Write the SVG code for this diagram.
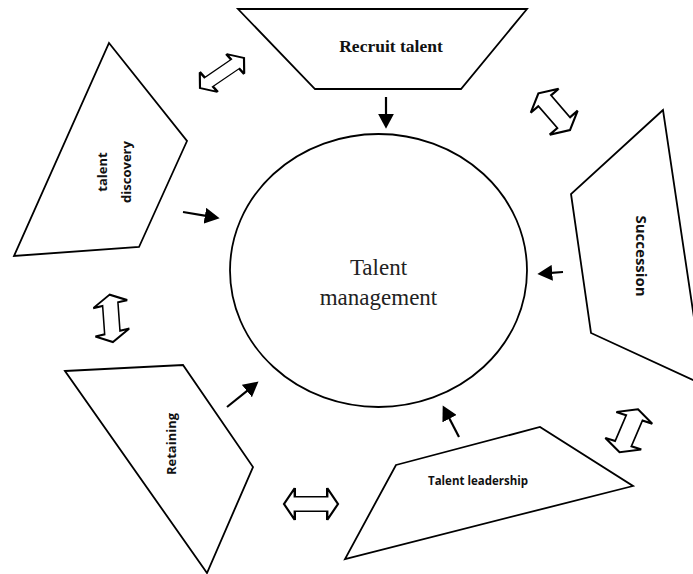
<svg xmlns="http://www.w3.org/2000/svg" width="693" height="574" viewBox="0 0 693 574">
<style>
.shape{fill:#fff;stroke:#000;stroke-width:1.8;stroke-linejoin:miter}
.dbl{fill:#fff;stroke:#000;stroke-width:1.8;stroke-linejoin:miter}
.lbl{font-family:"Open Sans","Liberation Sans",sans-serif;font-weight:bold;fill:#111;text-anchor:middle}
.arr{stroke:#000;stroke-width:2.2;fill:none}
</style>
<defs>
<marker id="ah" markerUnits="userSpaceOnUse" markerWidth="16" markerHeight="16" refX="4" refY="7.5" orient="auto" viewBox="0 0 15 15">
<path d="M0,0 L14,7.5 L0,15 Z" fill="#000"/>
</marker>
<path id="dblArrow" d="M-1,0 L-0.6,-1 L-0.6,-0.45 L0.6,-0.45 L0.6,-1 L1,0 L0.6,1 L0.6,0.45 L-0.6,0.45 L-0.6,1 Z"/>
</defs>
<rect width="693" height="574" fill="#fff"/>

<g id="center">
<ellipse cx="378.5" cy="270.5" rx="148.5" ry="136.5" fill="#fff" stroke="#000" stroke-width="1.8"/>
<text x="378.5" y="275" font-family="Liberation Serif,serif" font-size="23" text-anchor="middle" fill="#222">Talent</text>
<text x="378.5" y="305" font-family="Liberation Serif,serif" font-size="23" text-anchor="middle" fill="#222">management</text>
</g>

<g id="recruit">
<polygon class="shape" points="238,9 527,9 461,89 315,89"/>
<text x="391" y="52" font-family="Liberation Serif,serif" font-size="17.5" font-weight="bold" text-anchor="middle" fill="#111">Recruit talent</text>
</g>

<g id="discovery">
<polygon class="shape" points="109,43 187,141 139,247 14,256"/>
<text class="lbl" font-size="13" transform="translate(102,172) rotate(-90)" dy="0.35em">talent</text>
<text class="lbl" font-size="13" transform="translate(126,172) rotate(-90)" dy="0.35em">discovery</text>
</g>

<g id="succession">
<polygon class="shape" points="663,110 571,194 591,333 704,385"/>
<text class="lbl" font-size="15" transform="translate(641,256) rotate(90)" dy="0.35em">Succession</text>
</g>

<g id="retaining">
<polygon class="shape" points="65,371 183,365 253,467 207,573"/>
<text class="lbl" font-size="13" transform="translate(171,444) rotate(-90)" dy="0.35em">Retaining</text>
</g>

<g id="leadership">
<polygon class="shape" points="396,465 540,427 633,486 345,559"/>
<text class="lbl" font-size="11.5" x="478" y="485">Talent leadership</text>
</g>

<g id="connectors">
<line class="arr" x1="386" y1="97" x2="386" y2="118" marker-end="url(#ah)"/>
<line class="arr" x1="183" y1="212" x2="209.1" y2="216.4" marker-end="url(#ah)"/>
<line class="arr" x1="563" y1="272" x2="548" y2="273.2" marker-end="url(#ah)"/>
<line class="arr" x1="227" y1="407" x2="250.2" y2="388.3" marker-end="url(#ah)"/>
<line class="arr" x1="459" y1="437" x2="447.6" y2="414.9" marker-end="url(#ah)"/>

<use href="#dblArrow" class="dbl" transform="matrix(22,-15,9,10,222,73)" style="stroke-width:0.09"/>
<use href="#dblArrow" class="dbl" transform="matrix(15.8,18.3,14,-12,554.2,111.7)" style="stroke-width:0.09"/>
<use href="#dblArrow" class="dbl" transform="matrix(1.7,23.7,17,-4,111.3,318.3)" style="stroke-width:0.09"/>
<use href="#dblArrow" class="dbl" transform="matrix(27,0,0,16,311,504)" style="stroke-width:0.09"/>
<use href="#dblArrow" class="dbl" transform="matrix(-9.2,21.5,18,5.8,628.8,430.8)" style="stroke-width:0.09"/>
</g>
</svg>
